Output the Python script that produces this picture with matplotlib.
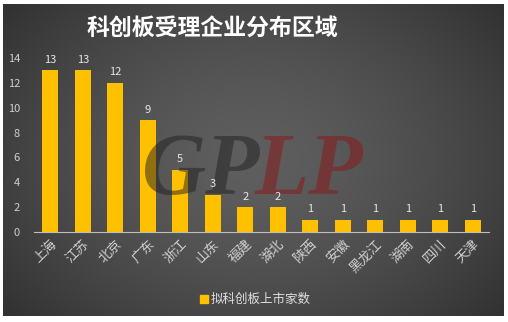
import matplotlib.pyplot as plt
import numpy as np
from matplotlib.patches import Rectangle

plt.rcParams['font.family'] = ['Noto Sans CJK SC', 'DejaVu Sans']

regions = ["上海", "江苏", "北京", "广东", "浙江", "山东", "福建", "湖北",
           "陕西", "安徽", "黑龙江", "湖南", "四川", "天津"]
companies = [13, 13, 12, 9, 5, 3, 2, 2, 1, 1, 1, 1, 1, 1]
series_name = "拟科创板上市家数"
title = "科创板受理企业分布区域"

W, H = 508, 322
fig = plt.figure(figsize=(W / 100, H / 100), dpi=100)
fig.patch.set_facecolor("white")

# dark radial background panel
bg = fig.add_axes([3 / W, 6 / H, 501 / W, 312 / H])
yy, xx = np.mgrid[0:1:200j, 0:1:300j]
r = np.sqrt(((xx - 0.5) / 0.75) ** 2 + ((yy - 0.5) / 0.9) ** 2)
shade = np.clip(0.37 - 0.22 * r ** 1.5, 0.14, 0.4)
bg.imshow(np.dstack([shade] * 3), aspect="auto", extent=[0, 1, 0, 1])
bg.set_axis_off()

ax = fig.add_axes([34 / W, 90 / H, 455 / W, 174 / H])
ax.patch.set_alpha(0)
x = np.arange(len(regions))
bars = ax.bar(x, companies, width=0.5, color="#FFC000", zorder=3)
for xi, v in zip(x, companies):
    ax.text(xi, v + 0.45, str(v), ha="center", va="bottom",
            color="#e8e8e8", fontsize=8, zorder=7)

ax.set_xlim(-0.5, len(regions) - 0.5)
ax.set_ylim(0, 14)
ax.set_yticks(range(0, 15, 2))
ax.set_xticks(x)
ax.set_xticklabels(regions, rotation=45, ha="right", rotation_mode="anchor",
                   color="#d0d0d0", fontsize=9.5)
ax.tick_params(axis="y", colors="#d0d0d0", labelsize=8, length=0, pad=10)
ax.tick_params(axis="x", length=0, pad=4)
for side in ["top", "right", "left"]:
    ax.spines[side].set_visible(False)
ax.spines["bottom"].set_color("#bfbfbf")
ax.spines["bottom"].set_zorder(4)

# watermark, above the bars but under the value labels
wm = dict(fontfamily="Liberation Serif", fontweight="bold", fontstyle="italic",
          fontsize=64, transform=fig.transFigure, zorder=5, clip_on=False)
ax.text(142 / W, 1 - 194 / H, "GP", color="#202020", alpha=0.5, **wm)
ax.text(255 / W, 1 - 194 / H, "LP", color="#8a1a1a", alpha=0.55, **wm)

fig.text(212 / W, 1 - 28 / H, title, ha="center", va="center",
         color="white", fontsize=16.5, fontweight="bold")

# legend
fig.patches.append(Rectangle((200 / W, 1 - 303 / H), 8 / W, 8 / H,
                             transform=fig.transFigure, color="#FFC000"))
fig.text(211 / W, 1 - 299 / H, series_name, va="center",
         color="#e0e0e0", fontsize=9)

fig.savefig("out.png", dpi=100, facecolor="white")
